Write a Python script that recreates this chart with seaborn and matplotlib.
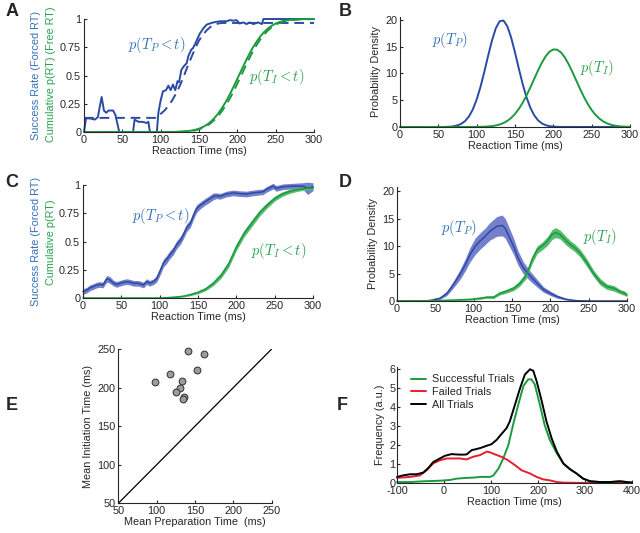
# coding=utf-8

from matplotlib import pyplot as plt
import seaborn as sns
import numpy as np

# --- A: success rate (forced RT) and cumulative p(RT) (free RT) ---
a_blue_t = [0, 2.6, 8, 14, 18, 23, 26, 29, 32, 38, 41, 46, 64, 66, 71, 76, 82, 84, 86, 95,
            97, 100, 103, 107, 110, 113, 116, 119, 122, 124, 127, 130, 134, 136, 140, 142,
            145, 147, 151, 156, 160, 164, 169, 177, 186, 190, 195, 199, 203, 208, 212, 216,
            221, 227, 232, 234, 300]
a_blue_v = [0, 0.12, 0.12, 0.11, 0.13, 0.31, 0.19, 0.17, 0.19, 0.19, 0.15, 0.0, 0.0, 0.11,
            0.09, 0.09, 0.08, 0.09, 0.0, 0.0, 0.17, 0.28, 0.36, 0.37, 0.41, 0.37, 0.42, 0.37,
            0.45, 0.44, 0.55, 0.58, 0.61, 0.67, 0.73, 0.74, 0.78, 0.81, 0.87, 0.92, 0.95, 0.96,
            0.97, 0.98, 0.98, 0.99, 0.985, 0.99, 0.96, 0.97, 0.955, 0.97, 0.955, 0.97, 0.955,
            1.0, 1.0]
a_fit_t = [0, 95, 100, 105, 110, 115, 120, 125, 130, 135, 140, 145, 150, 155, 160, 165, 170,
           175, 180, 300]
a_fit_v = [0.125, 0.125, 0.16, 0.19, 0.23, 0.28, 0.34, 0.41, 0.49, 0.58, 0.66, 0.74, 0.81,
           0.86, 0.90, 0.93, 0.95, 0.96, 0.965, 0.965]
a_green_t = [0, 100, 110, 120, 130, 140, 145, 150, 155, 160, 165, 170, 175, 180, 185, 190,
             195, 200, 205, 210, 215, 220, 225, 230, 235, 240, 245, 250, 255, 260, 270, 280,
             290, 300]
a_green_v = [0, 0.0001, 0.0004, 0.0014, 0.0044, 0.0122, 0.019, 0.029, 0.044, 0.063, 0.089,
             0.123, 0.163, 0.212, 0.268, 0.331, 0.399, 0.471, 0.543, 0.614, 0.682, 0.744,
             0.798, 0.846, 0.885, 0.916, 0.941, 0.960, 0.973, 0.983, 0.993, 0.998, 0.999, 1.0]
a_gfit_v = [0, 0.0, 0.0003, 0.001, 0.0035, 0.01, 0.015, 0.024, 0.037, 0.054, 0.076, 0.107,
            0.142, 0.185, 0.237, 0.294, 0.356, 0.428, 0.500, 0.573, 0.643, 0.71, 0.768, 0.82,
            0.863, 0.90, 0.928, 0.95, 0.966, 0.977, 0.99, 0.996, 0.998, 0.999]

# --- B: model densities ---
b_blue_t = [0, 55, 60, 65, 70, 75, 80, 85, 90, 95, 100, 105, 110, 115, 120, 125, 130, 135,
            140, 145, 150, 155, 160, 165, 170, 175, 180, 185, 190, 195, 200, 205, 210, 300]
b_blue_v = [0, 0.01, 0.03, 0.06, 0.14, 0.30, 0.60, 1.12, 1.98, 3.28, 5.12, 7.49, 10.30, 13.31,
            16.15, 18.42, 19.73, 19.85, 18.77, 16.66, 13.90, 10.89, 8.02, 5.55, 3.60, 2.20,
            1.26, 0.68, 0.34, 0.16, 0.07, 0.03, 0.01, 0]
b_green_t = [0, 90, 100, 110, 120, 125, 130, 135, 140, 145, 150, 155, 160, 165, 170, 175, 180,
             185, 190, 195, 200, 205, 210, 215, 220, 225, 230, 235, 240, 245, 250, 255, 260,
             265, 270, 275, 280, 285, 290, 295, 300]
b_green_v = [0, 0.005, 0.015, 0.05, 0.17, 0.29, 0.47, 0.75, 1.14, 1.69, 2.43, 3.37, 4.52, 5.87,
             7.37, 8.96, 10.53, 11.98, 13.18, 14.04, 14.46, 14.41, 13.90, 12.97, 11.70, 10.22,
             8.64, 7.06, 5.58, 4.27, 3.16, 2.26, 1.57, 1.05, 0.68, 0.43, 0.26, 0.15, 0.09,
             0.05, 0.03]

# --- C: group data with s.e.m. bands ---
c_blue_t = [0, 5, 9, 13, 18, 22, 26, 31, 35, 40, 44, 48, 53, 57, 61, 66, 72, 79, 83, 87, 92,
            96, 100, 105, 109, 113, 118, 122, 127, 131, 135, 140, 144, 148, 153, 159, 166, 170,
            174, 179, 187, 196, 202, 213, 222, 235, 239, 248, 252, 261, 274, 287, 293, 300]
c_blue_v = [0.056, 0.07, 0.09, 0.10, 0.115, 0.12, 0.115, 0.17, 0.16, 0.13, 0.12, 0.13, 0.14,
            0.145, 0.14, 0.13, 0.13, 0.115, 0.145, 0.13, 0.145, 0.17, 0.23, 0.31, 0.34, 0.38,
            0.42, 0.47, 0.51, 0.56, 0.62, 0.66, 0.73, 0.79, 0.82, 0.85, 0.88, 0.90, 0.905,
            0.90, 0.92, 0.93, 0.925, 0.92, 0.93, 0.94, 0.96, 0.99, 0.97, 0.985, 0.99, 0.99,
            0.97, 0.985]
c_blue_e = [0.025, 0.025, 0.025, 0.025, 0.025, 0.025, 0.025, 0.03, 0.03, 0.025, 0.025, 0.025,
            0.025, 0.025, 0.025, 0.025, 0.025, 0.025, 0.025, 0.025, 0.025, 0.03, 0.035, 0.035,
            0.035, 0.035, 0.035, 0.035, 0.035, 0.035, 0.035, 0.035, 0.035, 0.035, 0.03, 0.03,
            0.03, 0.03, 0.025, 0.025, 0.025, 0.025, 0.025, 0.025, 0.025, 0.025, 0.025, 0.025,
            0.025, 0.025, 0.025, 0.03, 0.055, 0.035]
c_green_t = [0, 100, 110, 120, 130, 140, 150, 160, 170, 180, 190, 200, 210, 220, 230, 240,
             250, 260, 270, 280, 290, 300]
c_green_v = [0, 0.0, 0.003, 0.008, 0.015, 0.03, 0.05, 0.08, 0.13, 0.20, 0.30, 0.45, 0.57,
             0.66, 0.75, 0.82, 0.88, 0.92, 0.945, 0.96, 0.97, 0.975]
c_green_e = [0, 0.0, 0.003, 0.005, 0.007, 0.01, 0.012, 0.015, 0.02, 0.025, 0.028, 0.03,
             0.03, 0.03, 0.028, 0.025, 0.022, 0.02, 0.018, 0.016, 0.014, 0.014]

# --- D: group densities with s.e.m. bands ---
d_blue_t = [0, 40, 47, 56, 65, 73, 82, 89, 95, 102, 108, 115, 121, 130, 137, 141, 145, 152,
            158, 165, 174, 183, 191, 200, 209, 221, 234, 250, 300]
d_blue_v = [0, 0.05, 0.2, 0.5, 1.4, 2.9, 4.8, 6.6, 8.4, 10.0, 10.9, 11.8, 12.7, 13.6, 13.8,
            13.3, 12.1, 10.0, 7.8, 6.0, 4.5, 3.2, 2.1, 1.4, 0.8, 0.3, 0.06, 0.0, 0]
d_blue_e = [0, 0, 0.1, 0.2, 0.4, 0.6, 0.9, 1.1, 1.3, 1.5, 1.5, 1.5, 1.6, 1.8, 1.9, 1.8, 1.7,
            1.5, 1.3, 1.1, 0.9, 0.7, 0.5, 0.4, 0.3, 0.15, 0.05, 0, 0]
d_green_t = [0, 50, 78, 95, 108, 117, 126, 134, 143, 152, 160, 169, 176, 183, 189, 196, 202,
             207, 213, 219, 226, 232, 239, 248, 256, 265, 274, 283, 291, 297, 300]
d_green_v = [0, 0.05, 0.2, 0.3, 0.5, 0.7, 0.7, 1.4, 1.8, 2.3, 3.2, 4.8, 7.5, 9.4, 10.0, 10.9,
             12.1, 12.5, 12.1, 11.2, 10.3, 9.7, 8.7, 6.9, 5.1, 3.5, 2.6, 2.3, 1.7, 1.4, 1.1]
d_green_e = [0, 0, 0.1, 0.15, 0.2, 0.2, 0.25, 0.3, 0.35, 0.4, 0.5, 0.6, 0.7, 0.7, 0.7, 0.8,
             0.9, 0.9, 0.8, 0.8, 0.7, 0.7, 0.7, 0.7, 0.6, 0.6, 0.5, 0.5, 0.4, 0.4, 0.3]

# --- E: mean preparation vs initiation time per subject ---
e_prep = [98, 117, 152, 133, 131, 125, 136, 134, 141, 162]
e_init = [207, 217, 223, 209, 200, 194, 188, 185, 248, 244]
e_diag = [50, 250]

# --- F: RT distributions ---
f_all_t = [-100, -87, -72, -58, -44, -33, -23, -8, 2, 16, 27, 38, 48, 59, 70, 80, 91, 101,
           112, 122, 133, 140, 151, 162, 172, 183, 190, 197, 208, 218, 229, 240, 254, 268,
           282, 296, 311, 332, 353, 374, 400]
f_all_v = [0.32, 0.40, 0.46, 0.46, 0.55, 0.80, 1.10, 1.30, 1.43, 1.52, 1.50, 1.49, 1.50, 1.73,
           1.79, 1.86, 1.96, 2.04, 2.27, 2.57, 2.88, 3.24, 4.12, 5.0, 5.7, 5.98, 5.9, 5.36,
           4.3, 3.24, 2.35, 1.65, 1.03, 0.73, 0.50, 0.23, 0.09, 0.05, 0.05, 0.09, 0.02]
f_fail_t = [-100, -72, -51, -37, -23, -8, 6, 20, 34, 48, 62, 77, 91, 98, 112, 122, 136, 151,
            165, 183, 197, 211, 225, 240, 254, 300, 400]
f_fail_v = [0.27, 0.32, 0.40, 0.67, 1.03, 1.20, 1.29, 1.29, 1.29, 1.24, 1.38, 1.47, 1.65, 1.61,
            1.47, 1.38, 1.20, 0.94, 0.67, 0.50, 0.32, 0.19, 0.14, 0.05, 0.02, 0.0, 0.0]
f_succ_t = [-100, -72, -44, -8, 13, 27, 48, 62, 77, 98, 105, 116, 126, 137, 147, 158, 169,
            179, 186, 193, 204, 214, 225, 240, 254, 268, 282, 296, 311, 332, 353, 374, 400]
f_succ_v = [0.05, 0.05, 0.09, 0.12, 0.16, 0.23, 0.27, 0.28, 0.32, 0.32, 0.40, 0.76, 1.29, 2.0,
            3.06, 4.12, 5.1, 5.45, 5.45, 5.19, 4.12, 3.06, 2.27, 1.56, 1.01, 0.72, 0.50, 0.23,
            0.09, 0.05, 0.05, 0.09, 0.02]

# colours
BLUE = "#2a4ba2"
BLUE_TXT = "#3570b8"
BLUE_BAND = "#7580cc"
GREEN = "#1c9a3e"
GREEN_TXT = "#2aa150"
GREEN_BAND = "#57bb70"
RED = "#e3202c"

sns.set_style("ticks")
plt.rcParams["font.family"] = ["Liberation Sans", "DejaVu Sans"]
plt.rcParams["mathtext.fontset"] = "cm"
plt.rcParams["axes.unicode_minus"] = False
plt.rcParams["xtick.direction"] = "in"
plt.rcParams["ytick.direction"] = "in"
plt.rcParams["xtick.major.size"] = 2.5
plt.rcParams["ytick.major.size"] = 2.5
plt.rcParams["xtick.major.pad"] = 2
plt.rcParams["ytick.major.pad"] = 2
plt.rcParams["axes.linewidth"] = 0.8
FS = 7.8
MATH_FS = 10.5
LW = 1.4

fig = plt.figure(figsize=(6.4, 5.33), dpi=100)
W, H = 640.0, 533.0


def make_ax(x0, x1, ytop, ybot):
    return fig.add_axes([x0 / W, 1 - ybot / H, (x1 - x0) / W, (ybot - ytop) / H])


axA = make_ax(84, 314, 19, 132)
axB = make_ax(400, 630, 16.5, 127)
axC = make_ax(83, 313, 185, 298)
axD = make_ax(397, 627, 186.5, 301)
axE = make_ax(118.3, 271.7, 349, 503.3)
axF = make_ax(397, 632, 367, 483)

# A
line_kw = dict(errorbar=None, clip_on=False)
sns.lineplot(x=a_fit_t, y=a_fit_v, ax=axA, color=BLUE, lw=LW, linestyle=(0, (5, 3)), **line_kw)
sns.lineplot(x=a_green_t, y=a_gfit_v, ax=axA, color=GREEN, lw=LW, linestyle=(0, (5, 3)), **line_kw)
sns.lineplot(x=a_blue_t, y=a_blue_v, ax=axA, color=BLUE, lw=LW, **line_kw)
sns.lineplot(x=a_green_t, y=a_green_v, ax=axA, color=GREEN, lw=LW, **line_kw)
axA.text(95, 0.77, r"$p(T_P < t)$", color=BLUE_TXT, fontsize=MATH_FS, ha="center", va="center")
axA.text(251, 0.49, r"$p(T_I < t)$", color=GREEN_TXT, fontsize=MATH_FS, ha="center", va="center")
axA.set_ylim(0, 1)
axA.set_yticks([0, 0.25, 0.5, 0.75, 1])
axA.set_yticklabels(["0", "0.25", "0.5", "0.75", "1"])

# B
sns.lineplot(x=b_blue_t, y=b_blue_v, ax=axB, color=BLUE, lw=LW, **line_kw)
sns.lineplot(x=b_green_t, y=b_green_v, ax=axB, color=GREEN, lw=LW, **line_kw)
axB.text(65, 16.3, r"$p(T_P)$", color=BLUE_TXT, fontsize=MATH_FS, ha="center", va="center")
axB.text(257, 11.0, r"$p(T_I)$", color=GREEN_TXT, fontsize=MATH_FS, ha="center", va="center")
axB.set_ylim(0, 20.6)
axB.set_yticks([0, 5, 10, 15, 20])

# C
cb_v, cb_e = np.array(c_blue_v), np.array(c_blue_e)
cg_v, cg_e = np.array(c_green_v), np.array(c_green_e)
axC.fill_between(c_blue_t, cb_v - cb_e, cb_v + cb_e, color=BLUE_BAND, lw=0, clip_on=False)
axC.fill_between(c_green_t, cg_v - cg_e, cg_v + cg_e, color=GREEN_BAND, lw=0, clip_on=False)
sns.lineplot(x=c_blue_t, y=c_blue_v, ax=axC, color=BLUE, lw=1.1, **line_kw)
sns.lineplot(x=c_green_t, y=c_green_v, ax=axC, color=GREEN, lw=1.1, **line_kw)
axC.text(102, 0.73, r"$p(T_P < t)$", color=BLUE_TXT, fontsize=MATH_FS, ha="center", va="center")
axC.text(255, 0.42, r"$p(T_I < t)$", color=GREEN_TXT, fontsize=MATH_FS, ha="center", va="center")
axC.set_ylim(0, 1)
axC.set_yticks([0, 0.25, 0.5, 0.75, 1])
axC.set_yticklabels(["0", "0.25", "0.5", "0.75", "1"])

# D
db_v, db_e = np.array(d_blue_v), np.array(d_blue_e)
dg_v, dg_e = np.array(d_green_v), np.array(d_green_e)
axD.fill_between(d_blue_t, db_v - db_e, db_v + db_e, color=BLUE_BAND, lw=0)
axD.fill_between(d_green_t, dg_v - dg_e, dg_v + dg_e, color=GREEN_BAND, lw=0)
sns.lineplot(x=d_blue_t, y=d_blue_v, ax=axD, color=BLUE, lw=1.1, **line_kw)
sns.lineplot(x=d_green_t, y=d_green_v, ax=axD, color=GREEN, lw=1.1, **line_kw)
axD.text(81, 13.4, r"$p(T_P)$", color=BLUE_TXT, fontsize=MATH_FS, ha="center", va="center")
axD.text(265, 11.7, r"$p(T_I)$", color=GREEN_TXT, fontsize=MATH_FS, ha="center", va="center")
axD.set_ylim(0, 20.9)
axD.set_yticks([0, 5, 10, 15, 20])

for ax in (axA, axB, axC, axD):
    ax.set_xlim(0, 300)
    ax.set_xticks([0, 50, 100, 150, 200, 250, 300])
    ax.set_xlabel("Reaction Time (ms)", fontsize=FS, labelpad=1)
    ax.set_ylabel("")
    ax.tick_params(labelsize=FS)

axB.set_ylabel("Probability Density", fontsize=FS, labelpad=3)
axD.set_ylabel("Probability Density", fontsize=FS, labelpad=3)

# two-coloured y labels of A and C
fig.text(36 / W, 1 - 75 / H, "Success Rate (Forced RT)", color=BLUE_TXT, fontsize=FS,
         rotation=90, ha="center", va="center")
fig.text(51 / W, 1 - 74 / H, "Cumulative p(RT) (Free RT)", color=GREEN_TXT, fontsize=FS,
         rotation=90, ha="center", va="center")
fig.text(36 / W, 1 - 242 / H, "Success Rate (Forced RT)", color=BLUE_TXT, fontsize=FS,
         rotation=90, ha="center", va="center")
fig.text(51 / W, 1 - 242 / H, "Cumulative p(RT)", color=GREEN_TXT, fontsize=FS,
         rotation=90, ha="center", va="center")

# E
sns.lineplot(x=e_diag, y=e_diag, ax=axE, color="black", lw=0.9, errorbar=None)
sns.scatterplot(x=e_prep, y=e_init, ax=axE, color="#9c9c9c", edgecolor="#303030",
                linewidth=0.7, s=24, zorder=3, clip_on=False)
axE.set_xlim(50, 250)
axE.set_ylim(50, 250)
axE.set_xticks([50, 100, 150, 200, 250])
axE.set_yticks([50, 100, 150, 200, 250])
axE.tick_params(labelsize=FS)
axE.set_xlabel("Mean Preparation Time  (ms)", fontsize=FS, labelpad=1)
axE.set_ylabel("Mean Initiation Time (ms)", fontsize=FS, labelpad=3)

# F
sns.lineplot(x=f_succ_t, y=f_succ_v, ax=axF, color=GREEN, lw=LW, label="Successful Trials", **line_kw)
sns.lineplot(x=f_fail_t, y=f_fail_v, ax=axF, color=RED, lw=LW, label="Failed Trials", **line_kw)
sns.lineplot(x=f_all_t, y=f_all_v, ax=axF, color="black", lw=LW, label="All Trials", **line_kw)
axF.set_xlim(-100, 400)
axF.set_ylim(0, 6.1)
axF.set_xticks([-100, 0, 100, 200, 300, 400])
axF.set_yticks([0, 1, 2, 3, 4, 5, 6])
axF.tick_params(labelsize=FS)
axF.tick_params(axis="y", pad=1)
axF.set_xlabel("Reaction Time (ms)", fontsize=FS, labelpad=1)
axF.set_ylabel("Frequency (a.u.)", fontsize=FS, labelpad=3)
axF.legend(loc="upper left", bbox_to_anchor=(0.02, 1.02), frameon=False, fontsize=FS,
           handlelength=1.3, handletextpad=0.6, labelspacing=0.25)

sns.despine(fig=fig)

# panel letters
for letter, (px, py) in {"A": (12, 12), "B": (345, 12), "C": (12, 182), "D": (345, 182),
                         "E": (12, 405), "F": (342, 405)}.items():
    fig.text(px / W, 1 - py / H, letter, fontsize=13, fontweight="bold", ha="center", va="center")

fig.savefig("out.png", dpi=100)
